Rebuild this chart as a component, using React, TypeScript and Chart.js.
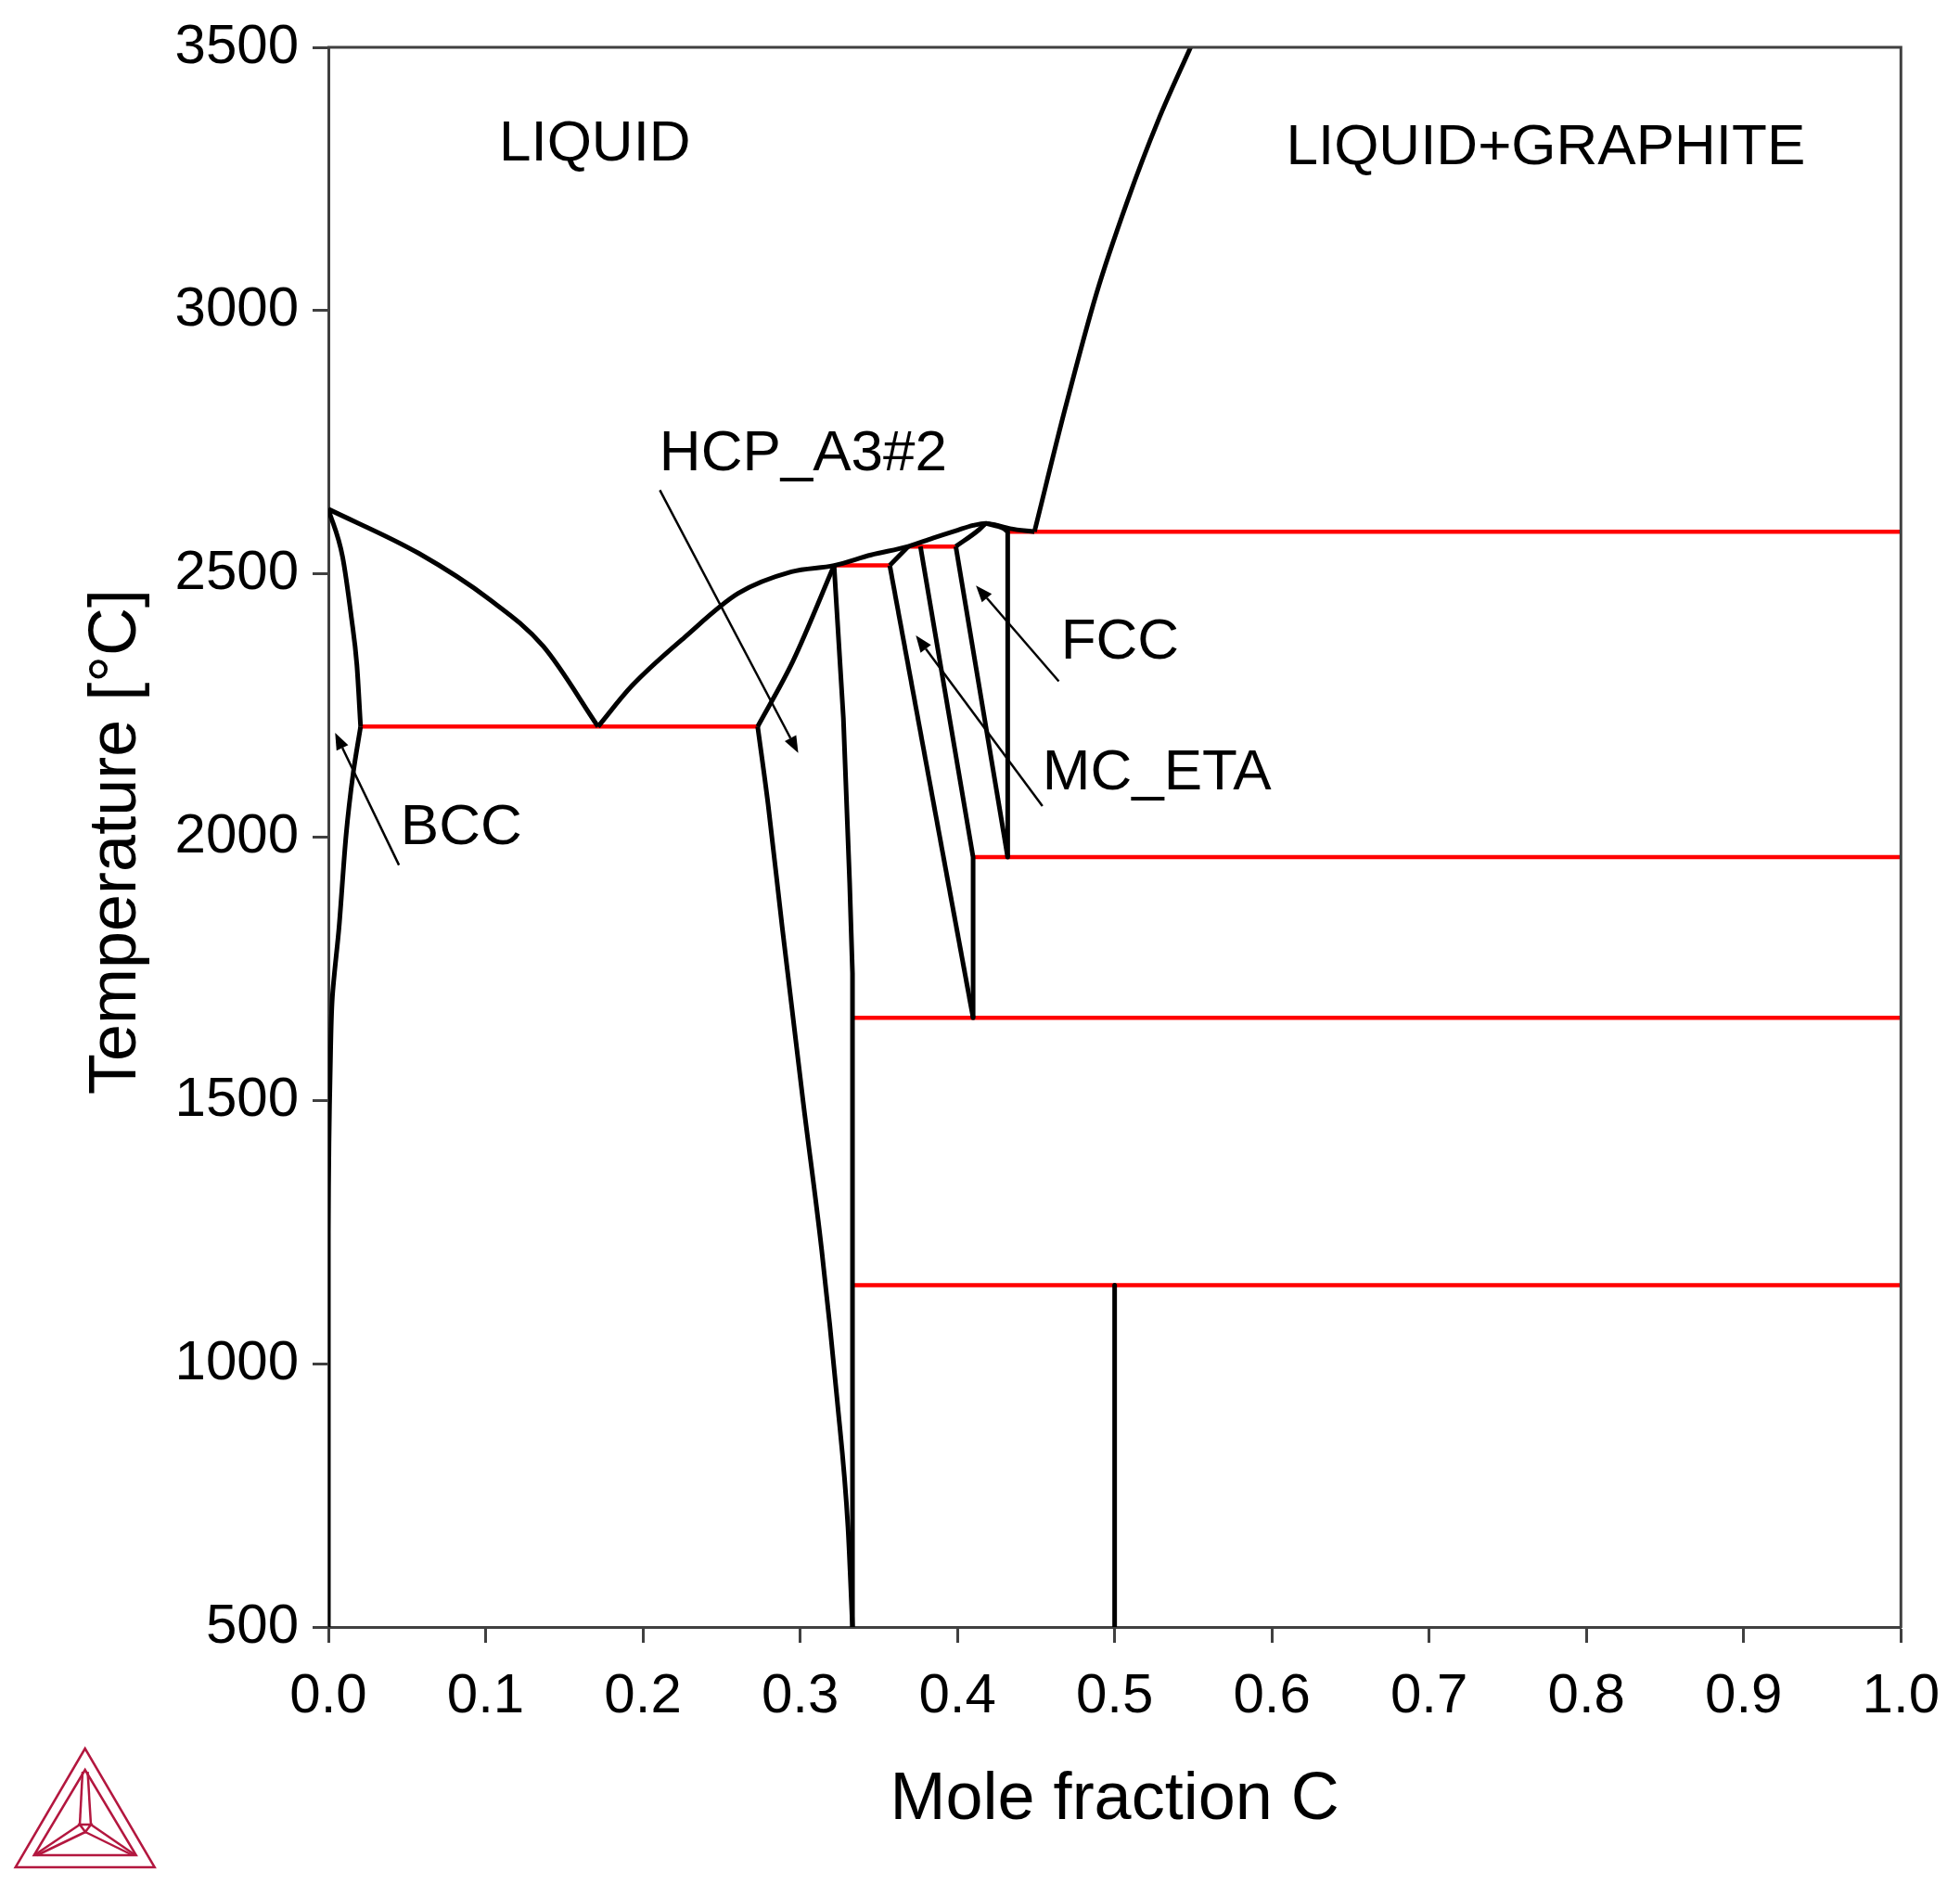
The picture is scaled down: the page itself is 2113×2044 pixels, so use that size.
import React, { useEffect, useRef } from 'react';
import { Chart, registerables } from 'chart.js';

Chart.register(...registerables);

type P = [number, number];

// ---- Axis ticks ----
const xTickValues = [0, 0.1, 0.2, 0.3, 0.4, 0.5, 0.6, 0.7, 0.8, 0.9, 1.0];
const xTickLabels = ['0.0', '0.1', '0.2', '0.3', '0.4', '0.5', '0.6', '0.7', '0.8', '0.9', '1.0'];
const yTickValues = [500, 1000, 1500, 2000, 2500, 3000, 3500];
const yTickLabels = ['500', '1000', '1500', '2000', '2500', '3000', '3500'];

// ---- Phase boundaries (mole fraction C, temperature °C) ----
const liquidusBcc: P[] = [[0, 2623], [0.0575, 2539], [0.1027, 2451], [0.1365, 2363], [0.1715, 2210]];
const bccSolidus: P[] = [[0, 2623], [0.009, 2533], [0.0147, 2416], [0.0181, 2328], [0.0205, 2210]];
const bccSolvus: P[] = [[0.0205, 2210], [0.0158, 2122], [0.0113, 2005], [0.0068, 1829], [0.0025, 1694], [0.0012, 1559], [0.0004, 1420], [0, 1250], [0, 500]];
const liquidus: P[] = [[0.1715, 2210], [0.1929, 2287], [0.2267, 2380], [0.2606, 2463], [0.2945, 2504], [0.3216, 2516], [0.3451, 2536], [0.3687, 2552], [0.3844, 2568], [0.4001, 2583], [0.41, 2592], [0.418, 2596], [0.4256, 2592], [0.4335, 2586], [0.449, 2580]];
const hcpSolidus: P[] = [[0.273, 2210], [0.2954, 2334], [0.3216, 2516]];
const hcpSolvusLeft: P[] = [[0.273, 2210], [0.2796, 2063], [0.2886, 1829], [0.3019, 1498], [0.3137, 1216], [0.3235, 933], [0.3304, 691], [0.3333, 500]];
const hcpRight: P[] = [[0.3216, 2516], [0.3275, 2226], [0.3315, 1912], [0.3333, 1741], [0.3333, 500]];
const etaSolidus: P[] = [[0.357, 2516], [0.3687, 2552]];
const etaLeft: P[] = [[0.357, 2516], [0.41, 1657]];
const etaRight: P[] = [[0.3765, 2552], [0.41, 1962], [0.41, 1657]];
const fccLeft: P[] = [[0.399, 2552], [0.432, 1962]];
const fccSolidusLeft: P[] = [[0.399, 2552], [0.4138, 2584], [0.418, 2596]];
const fccSolidusRight: P[] = [[0.418, 2596], [0.4295, 2586], [0.432, 2580]];
const fccGraphite: P[] = [[0.432, 2580], [0.432, 1962]];
const graphiteLiquidus: P[] = [[0.449, 2580], [0.4688, 2817], [0.4884, 3032], [0.508, 3207], [0.5277, 3361], [0.5483, 3500]];
const mcShp: P[] = [[0.5, 1149], [0.5, 500]];

// ---- Invariant lines ----
const eutecticBcc: P[] = [[0.0205, 2210], [0.273, 2210]];
const eutecticHcpEta: P[] = [[0.3216, 2516], [0.357, 2516]];
const peritecticEta: P[] = [[0.3687, 2552], [0.399, 2552]];
const eutecticFccGr: P[] = [[0.432, 2580], [1, 2580]];
const eutectoidFcc: P[] = [[0.41, 1962], [1, 1962]];
const eutectoidEta: P[] = [[0.3333, 1657], [1, 1657]];
const peritectoidShp: P[] = [[0.3333, 1149], [1, 1149]];

// ---- Phase labels and arrows ----
const labelTexts = ['LIQUID', 'LIQUID+GRAPHITE', 'HCP_A3#2', 'FCC', 'MC_ETA', 'BCC'];
const labelAnchors: P[] = [[0.1085, 3285], [0.609, 3278], [0.2105, 2697], [0.4658, 2339], [0.4541, 2090], [0.0459, 1987]];
const arrowTails: P[] = [[0.0449, 1947], [0.2108, 2659], [0.4541, 2059], [0.4645, 2296]];
const arrowHeads: P[] = [[0.0043, 2198], [0.2988, 2160], [0.3736, 2383], [0.4118, 2478]];

const FONT = '"Liberation Sans", Arial, Helvetica, sans-serif';
const AXIS_COLOR = '#404040';
const BLACK = '#000000';
const RED = '#ff0000';

type Mode = 'mono' | 'spline' | 'straight';
const series: { data: P[]; color: string; mode: Mode }[] = [
  { data: liquidusBcc, color: BLACK, mode: 'mono' },
  { data: bccSolidus, color: BLACK, mode: 'mono' },
  { data: bccSolvus, color: BLACK, mode: 'spline' },
  { data: liquidus, color: BLACK, mode: 'mono' },
  { data: hcpSolidus, color: BLACK, mode: 'mono' },
  { data: hcpSolvusLeft, color: BLACK, mode: 'mono' },
  { data: hcpRight, color: BLACK, mode: 'straight' },
  { data: etaSolidus, color: BLACK, mode: 'straight' },
  { data: etaLeft, color: BLACK, mode: 'straight' },
  { data: etaRight, color: BLACK, mode: 'straight' },
  { data: fccLeft, color: BLACK, mode: 'straight' },
  { data: fccSolidusLeft, color: BLACK, mode: 'mono' },
  { data: fccSolidusRight, color: BLACK, mode: 'mono' },
  { data: fccGraphite, color: BLACK, mode: 'straight' },
  { data: graphiteLiquidus, color: BLACK, mode: 'mono' },
  { data: mcShp, color: BLACK, mode: 'straight' },
  { data: eutecticBcc, color: RED, mode: 'straight' },
  { data: eutecticHcpEta, color: RED, mode: 'straight' },
  { data: peritecticEta, color: RED, mode: 'straight' },
  { data: eutecticFccGr, color: RED, mode: 'straight' },
  { data: eutectoidFcc, color: RED, mode: 'straight' },
  { data: eutectoidEta, color: RED, mode: 'straight' },
  { data: peritectoidShp, color: RED, mode: 'straight' },
];

const overlayPlugin = {
  id: 'overlay',
  afterDatasetsDraw(chart: any) {
    const { ctx, chartArea: a, scales } = chart;
    const xs = scales.x;
    const ys = scales.y;
    ctx.save();
    // frame top/right
    ctx.strokeStyle = AXIS_COLOR;
    ctx.lineWidth = 3;
    ctx.beginPath();
    ctx.moveTo(a.left - 1, a.top);
    ctx.lineTo(a.right, a.top);
    ctx.lineTo(a.right, a.bottom + 1);
    ctx.stroke();

    // arrows
    ctx.strokeStyle = BLACK;
    ctx.fillStyle = BLACK;
    ctx.lineWidth = 2.5;
    for (let i = 0; i < arrowTails.length; i++) {
      const x0 = xs.getPixelForValue(arrowTails[i][0]);
      const y0 = ys.getPixelForValue(arrowTails[i][1]);
      const x1 = xs.getPixelForValue(arrowHeads[i][0]);
      const y1 = ys.getPixelForValue(arrowHeads[i][1]);
      const ang = Math.atan2(y1 - y0, x1 - x0);
      const hl = 18;
      const hw = 7;
      const bx = x1 - hl * Math.cos(ang);
      const by = y1 - hl * Math.sin(ang);
      ctx.beginPath();
      ctx.moveTo(x0, y0);
      ctx.lineTo(bx, by);
      ctx.stroke();
      ctx.beginPath();
      ctx.moveTo(x1, y1);
      ctx.lineTo(bx + hw * Math.sin(ang), by - hw * Math.cos(ang));
      ctx.lineTo(bx - hw * Math.sin(ang), by + hw * Math.cos(ang));
      ctx.closePath();
      ctx.fill();
    }

    // phase labels
    ctx.font = `62px ${FONT}`;
    ctx.textAlign = 'left';
    ctx.textBaseline = 'alphabetic';
    ctx.fillStyle = BLACK;
    labelTexts.forEach((t, i) => {
      ctx.fillText(t, xs.getPixelForValue(labelAnchors[i][0]), ys.getPixelForValue(labelAnchors[i][1]));
    });

    // axis titles
    ctx.font = `72px ${FONT}`;
    ctx.textAlign = 'center';
    ctx.fillText('Mole fraction C', (a.left + a.right) / 2, 1961);
    ctx.save();
    ctx.translate(146, (a.top + a.bottom) / 2 + 5);
    ctx.rotate(-Math.PI / 2);
    ctx.fillText('Temperature [°C]', 0, 0);
    ctx.restore();

    // logo
    ctx.strokeStyle = '#b3173f';
    ctx.lineWidth = 2.5;
    ctx.lineJoin = 'miter';
    const tri = (p: number[][]) => {
      ctx.beginPath();
      ctx.moveTo(p[0][0], p[0][1]);
      for (let k = 1; k < p.length; k++) ctx.lineTo(p[k][0], p[k][1]);
      ctx.closePath();
      ctx.stroke();
    };
    tri([[91.7, 1885], [16.7, 2013], [166.7, 2013]]);
    tri([[91.7, 1908], [36.7, 2000], [146.7, 2000]]);
    tri([[86, 1967], [98, 1967], [92, 1975]]);
    const seg = (x0: number, y0: number, x1: number, y1: number) => {
      ctx.beginPath();
      ctx.moveTo(x0, y0);
      ctx.lineTo(x1, y1);
      ctx.stroke();
    };
    seg(89, 1910, 86, 1967);
    seg(94.5, 1910, 98, 1967);
    seg(37, 2000, 86, 1967);
    seg(40, 2000, 92, 1975);
    seg(146, 2000, 98, 1967);
    seg(143, 2000, 92, 1975);
    ctx.restore();
  },
};

export default function App() {
  const ref = useRef<HTMLCanvasElement | null>(null);
  useEffect(() => {
    document.body.style.margin = '0';
    const canvas = ref.current;
    if (!canvas) return;
    const chart = new Chart(canvas, {
      type: 'scatter',
      data: {
        datasets: series.map((s) => ({
          data: s.data.map(([x, y]) => ({ x, y })),
          showLine: true,
          borderColor: s.color,
          backgroundColor: s.color,
          borderWidth: s.color === RED ? 4.5 : 5,
          borderCapStyle: 'butt',
          borderJoinStyle: 'round',
          pointRadius: 0,
          pointHoverRadius: 0,
          fill: false,
          tension: s.mode === 'spline' ? 0.3 : 0,
          cubicInterpolationMode: s.mode === 'mono' ? 'monotone' : 'default',
        })),
      },
      options: {
        animation: false,
        responsive: false,
        devicePixelRatio: 1,
        events: [],
        layout: { padding: { top: 51, right: 61, left: 0, bottom: 0 } },
        plugins: { legend: { display: false }, tooltip: { enabled: false } },
        scales: {
          x: {
            type: 'linear',
            min: 0,
            max: 1,
            afterBuildTicks: (s: any) => {
              s.ticks = xTickValues.map((v) => ({ value: v }));
            },
            afterFit: (s: any) => {
              s.height = 290;
            },
            ticks: {
              callback: (_v: any, i: number) => xTickLabels[i],
              font: { size: 60, family: FONT },
              color: BLACK,
              padding: 22,
              maxRotation: 0,
              autoSkip: false,
            },
            grid: { drawOnChartArea: false, drawTicks: true, tickLength: 17, tickColor: AXIS_COLOR, tickWidth: 3 },
            border: { display: true, color: AXIS_COLOR, width: 3 },
          },
          y: {
            type: 'linear',
            min: 500,
            max: 3500,
            afterBuildTicks: (s: any) => {
              s.ticks = yTickValues.map((v) => ({ value: v }));
            },
            afterFit: (s: any) => {
              s.width = 354;
            },
            ticks: {
              callback: (_v: any, i: number) => yTickLabels[i],
              font: { size: 60, family: FONT },
              color: BLACK,
              padding: 15,
              autoSkip: false,
            },
            grid: { drawOnChartArea: false, drawTicks: true, tickLength: 17, tickColor: AXIS_COLOR, tickWidth: 3 },
            border: { display: true, color: AXIS_COLOR, width: 3 },
          },
        },
      } as any,
      plugins: [overlayPlugin],
    });
    return () => chart.destroy();
  }, []);
  return <canvas ref={ref} width={2113} height={2044} style={{ display: 'block' }} />;
}
